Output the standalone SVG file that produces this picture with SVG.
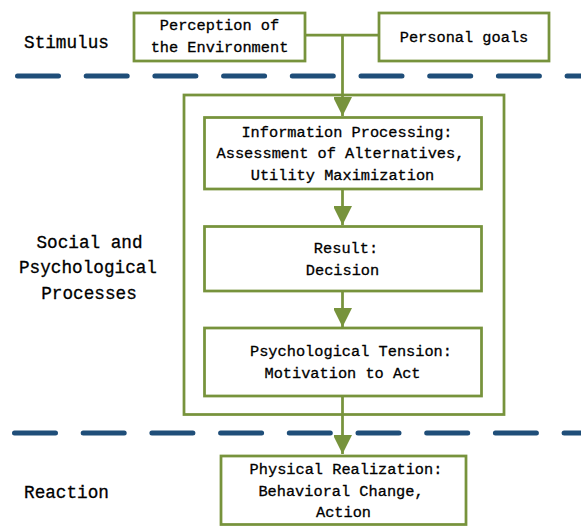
<svg xmlns="http://www.w3.org/2000/svg" width="581" height="526" viewBox="0 0 581 526">
<style>
.box{fill:#fff;stroke:#77933C;stroke-width:2.75}
.outer{fill:none;stroke:#77933C;stroke-width:2.75}
.con{fill:none;stroke:#77933C;stroke-width:2.75}
.dash{fill:none;stroke:#1F4E79;stroke-width:5;stroke-linecap:round;stroke-dasharray:41 27.7}
.t{font-family:"Liberation Mono","DejaVu Sans Mono",monospace;font-size:15.3px;fill:#000;stroke:#000;stroke-width:0.3;text-anchor:middle}
.lbl{font-family:"Liberation Mono","DejaVu Sans Mono",monospace;font-size:17.7px;fill:#000;stroke:#000;stroke-width:0.3;text-anchor:middle}
</style>
<defs>
<marker id="ah" markerUnits="userSpaceOnUse" markerWidth="20" markerHeight="18" refX="19" refY="9.5" orient="auto">
<path d="M0,0 L19,9.5 L0,19 Z" fill="#77933C"/>
</marker>
</defs>
<rect width="581" height="526" fill="#fff"/>
<g id="separators">
<line class="dash" x1="17.5" y1="76" x2="600" y2="76"/>
<line class="dash" x1="14.5" y1="433" x2="600" y2="433"/>
</g>
<g id="lane-labels">
<text class="lbl" x="66.5" y="48">Stimulus</text>
<text class="lbl" x="89.5" y="248">Social and</text>
<text class="lbl" x="88" y="273">Psychological</text>
<text class="lbl" x="89" y="299">Processes</text>
<text class="lbl" x="66.5" y="498">Reaction</text>
</g>
<g id="outer-box"><rect class="outer" x="184" y="95" width="320" height="319.5"/></g>
<g id="connectors">
<polyline class="con" points="305,35 379,35"/>
<line class="con" x1="342.5" y1="35" x2="342.5" y2="116" marker-end="url(#ah)"/>
<line class="con" x1="342.5" y1="189" x2="342.5" y2="225" marker-end="url(#ah)"/>
<line class="con" x1="342.5" y1="291" x2="342.5" y2="327" marker-end="url(#ah)"/>
<line class="con" x1="342.5" y1="396" x2="342.5" y2="454" marker-end="url(#ah)"/>
</g>
<g id="perception">
<rect class="box" x="134" y="13" width="171" height="48"/>
<text class="t" x="219.5" y="30">Perception of</text>
<text class="t" x="219.5" y="52">the Environment</text>
</g>
<g id="personal-goals">
<rect class="box" x="379" y="13" width="170" height="48"/>
<text class="t" x="464" y="42">Personal goals</text>
</g>
<g id="information-processing">
<rect class="box" x="204.5" y="117.5" width="277" height="71.5"/>
<text class="t" x="347" y="137">Information Processing:</text>
<text class="t" x="340.5" y="158">Assessment of Alternatives,</text>
<text class="t" x="342.5" y="180">Utility Maximization</text>
</g>
<g id="result">
<rect class="box" x="204.5" y="226.5" width="277" height="64.5"/>
<text class="t" x="346" y="253">Result:</text>
<text class="t" x="342.5" y="275">Decision</text>
</g>
<g id="tension">
<rect class="box" x="204.5" y="328" width="277" height="68"/>
<text class="t" x="351" y="356">Psychological Tension:</text>
<text class="t" x="342.5" y="378">Motivation to Act</text>
</g>
<g id="physical-realization">
<rect class="box" x="221" y="456" width="245" height="68.5"/>
<text class="t" x="346" y="474">Physical Realization:</text>
<text class="t" x="341" y="496">Behavioral Change,</text>
<text class="t" x="343.5" y="517">Action</text>
</g>
</svg>
